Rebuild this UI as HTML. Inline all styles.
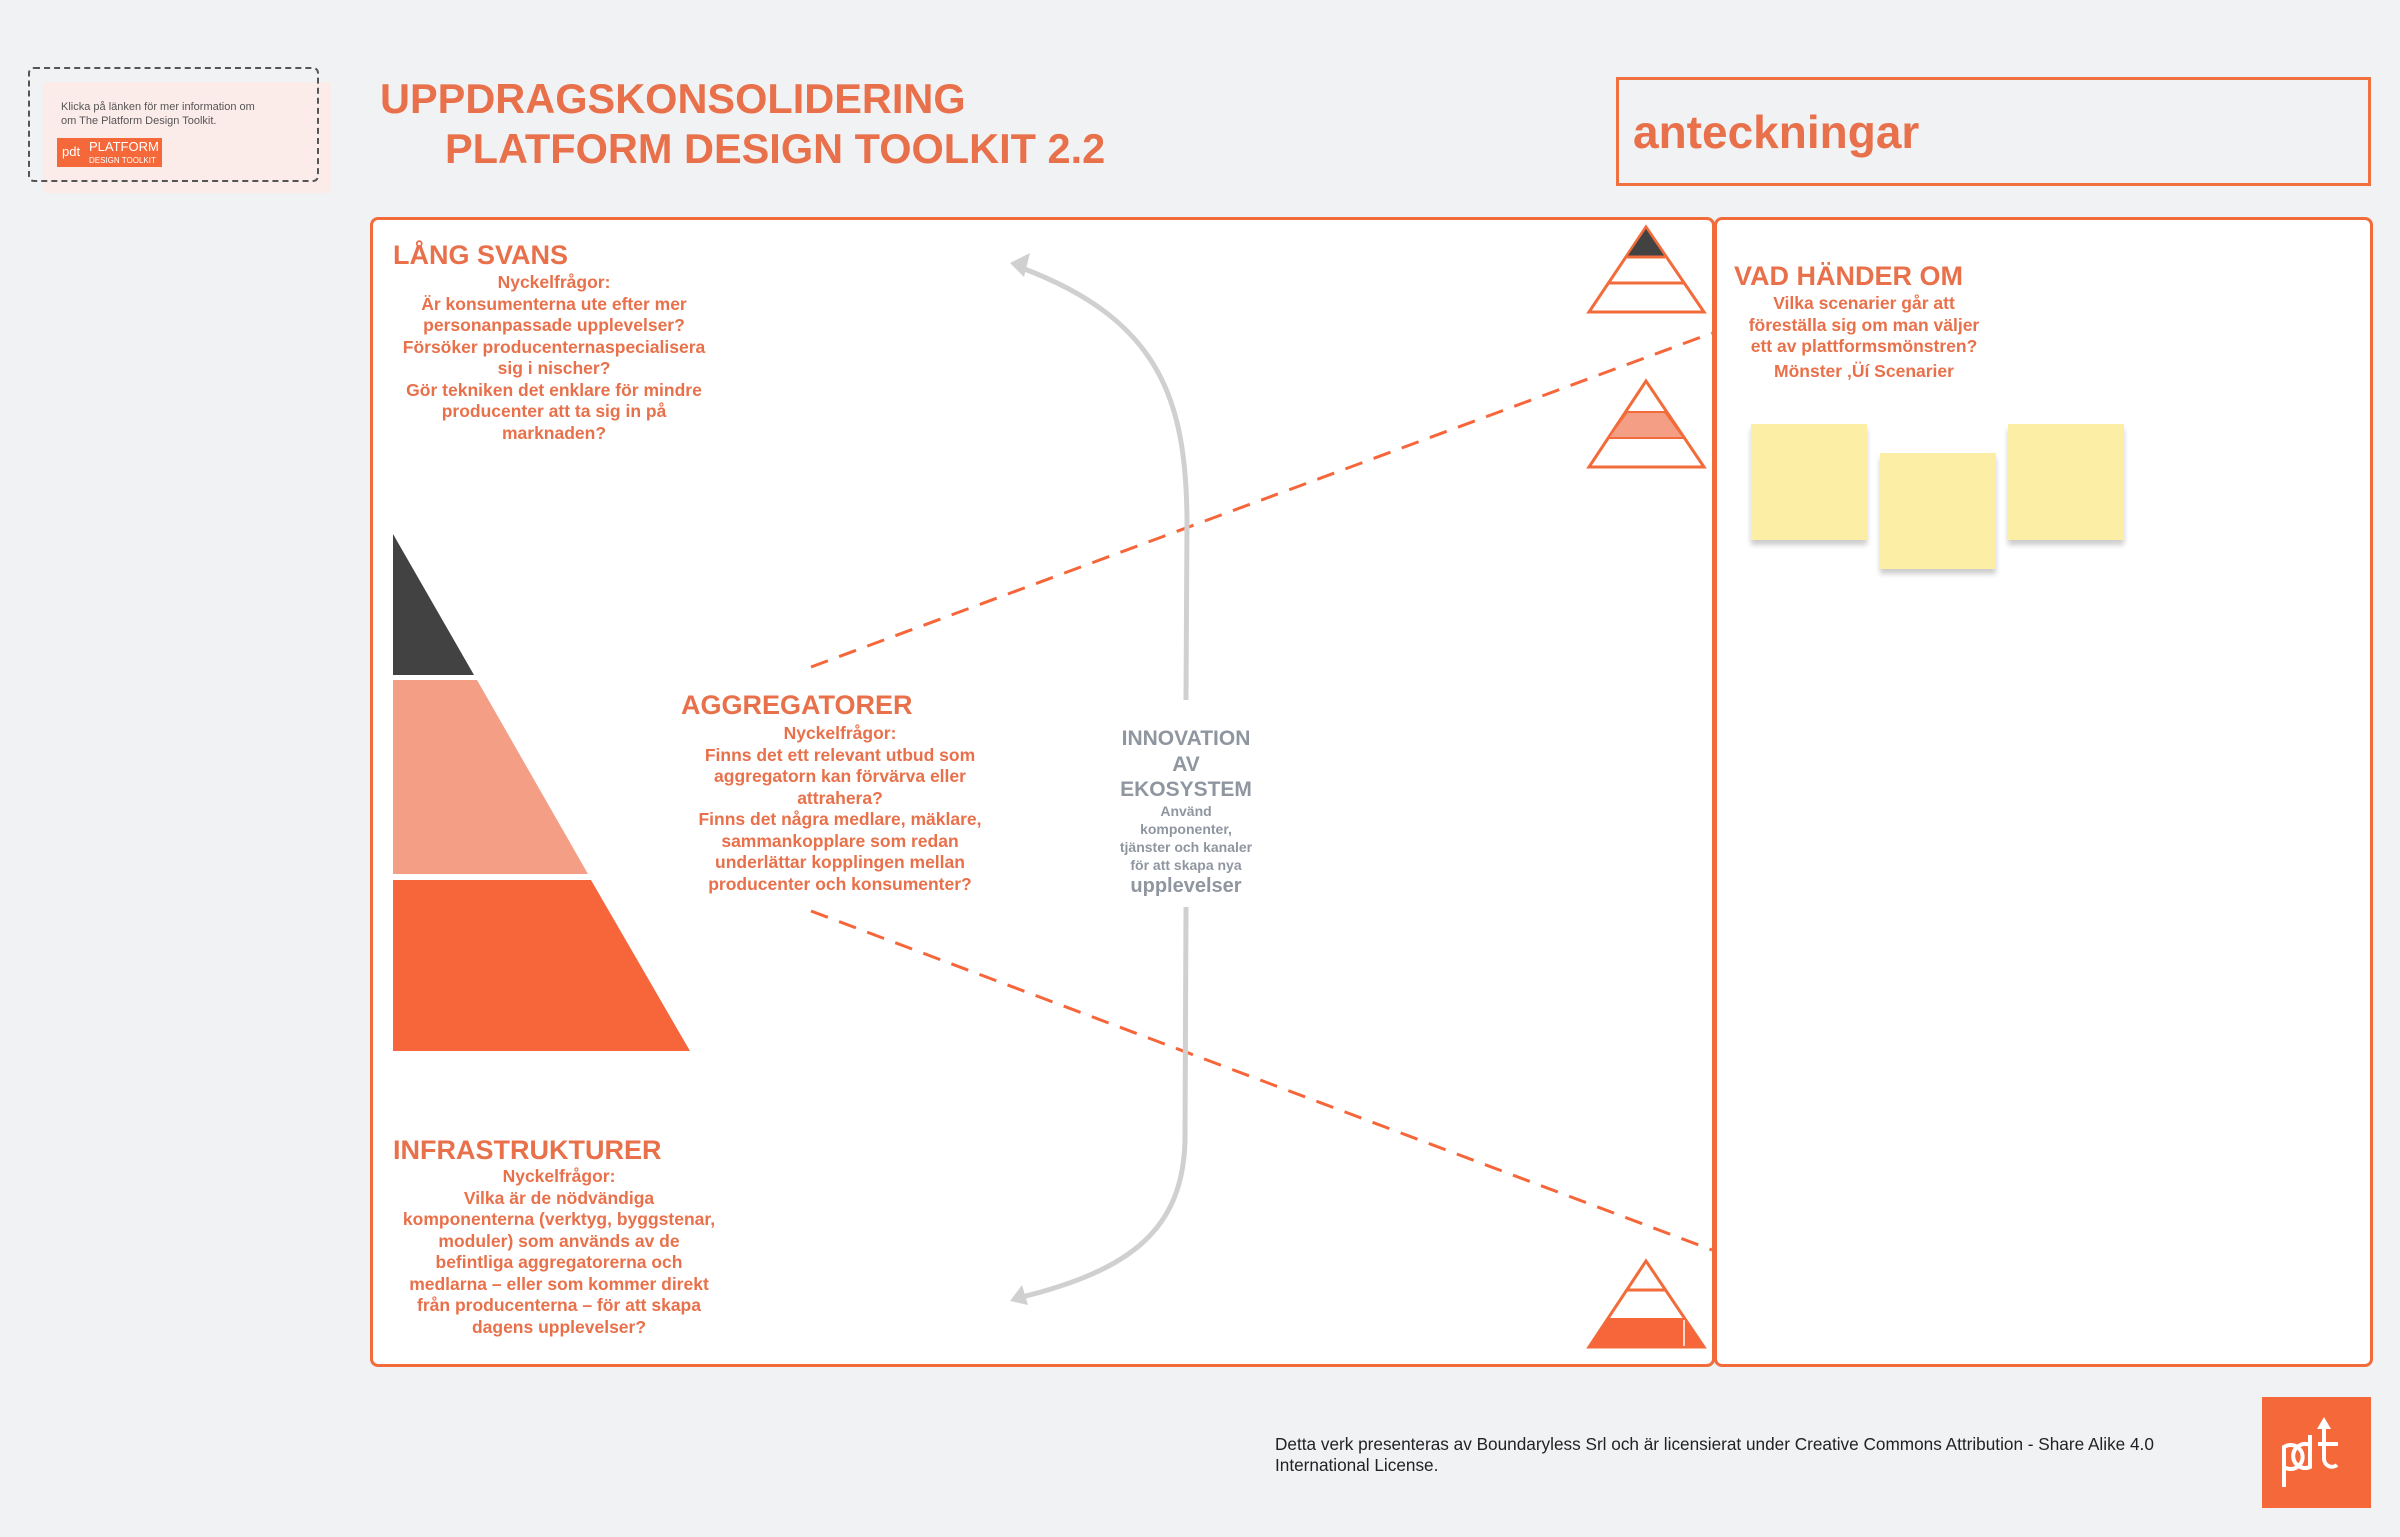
<!DOCTYPE html>
<html><head><meta charset="utf-8"><style>
body{margin:0;width:2400px;height:1537px;background:#f1f2f4;position:relative;overflow:hidden;font-family:"Liberation Sans",sans-serif}
.a{position:absolute}
.o{color:#e8704a;font-weight:bold}
.h{font-size:27px}
.b{font-size:17.5px;line-height:21.5px;text-align:center}
</style></head><body>
<div class="a" style="left:43px;top:82px;width:288px;height:111px;background:#fcece9;border-radius:4px"></div>
<div class="a" style="left:28px;top:67px;width:287px;height:111px;border:2px dashed #555;border-radius:6px"></div>
<div class="a" style="left:61px;top:100px;font-size:11px;line-height:14px;color:#555">Klicka på länken för mer information om<br>om The Platform Design Toolkit.</div>
<div class="a" style="left:57px;top:138px;width:105px;height:29px;background:#f4683a;color:#fff">
<span class="a" style="left:5px;top:6px;font-size:13px">pdt</span>
<span class="a" style="left:32px;top:3px;font-size:13px;line-height:12px">PLATFORM<br><span style="font-size:8px">DESIGN TOOLKIT</span></span></div>

<div class="a o" style="left:380px;top:74px;font-size:41.5px;line-height:50px">UPPDRAGSKONSOLIDERING</div>
<div class="a o" style="left:445px;top:124px;font-size:41.5px;line-height:50px">PLATFORM DESIGN TOOLKIT 2.2</div>

<div class="a" style="left:1616px;top:77px;width:749px;height:103px;border:3px solid #f0703f;background:#f1f2f4"></div>
<div class="a o" style="left:1633px;top:105px;font-size:46px">anteckningar</div>

<div class="a" style="left:370px;top:217px;width:1339px;height:1144px;border:3px solid #f26b3a;border-radius:8px;background:#fff"></div>
<div class="a" style="left:1714px;top:217px;width:653px;height:1144px;border:3px solid #f26b3a;border-radius:8px;background:#fff"></div>

<svg class="a" style="left:0;top:0" width="2400" height="1537">
<polygon points="393,534 393,675 474,675" fill="#424242"/>
<polygon points="393,680 477,680 588,874 393,874" fill="#f49e86"/>
<polygon points="393,880 591,880 690,1051 393,1051" fill="#f6663a"/>
<g stroke="#f26b3a" stroke-width="3" fill="#fff">
<polygon points="1646,227 1589,312 1704,312"/>
<polygon points="1646,381 1589,467 1704,467"/>
<polygon points="1646,1261 1589,1347 1704,1347"/>
</g>
<polygon points="1646,229 1665,257 1627,257" fill="#424242"/>
<polygon points="1627,412 1665,412 1684,438 1608,438" fill="#f49e86" stroke="#f26b3a" stroke-width="2"/>
<line x1="1608" y1="283" x2="1684" y2="283" stroke="#f26b3a" stroke-width="3"/>
<line x1="1627" y1="257" x2="1665" y2="257" stroke="#f26b3a" stroke-width="3"/>
<line x1="1627" y1="1290" x2="1665" y2="1290" stroke="#f26b3a" stroke-width="3"/>
<polygon points="1608,1318 1684,1318 1704,1347 1589,1347" fill="#f6663a"/>
<line x1="1684" y1="1320" x2="1684" y2="1346" stroke="#fff" stroke-width="1.5"/>
<g stroke="#f6663a" stroke-width="3" stroke-dasharray="18,12" fill="none">
<line x1="811" y1="667" x2="1712" y2="333"/>
<line x1="811" y1="911" x2="1712" y2="1250"/>
</g>
<g stroke="#d0d0d0" stroke-width="5" fill="none">
<path d="M1186,700 L1187,520 C1186,400 1160,320 1022,268"/>
<path d="M1186,907 L1185,1140 C1183,1230 1130,1270 1022,1297"/>
</g>
<polygon points="1010,263 1030,253 1024,277" fill="#d0d0d0"/>
<polygon points="1010,1301 1022,1285 1028,1305" fill="#d0d0d0"/>
</svg>

<div class="a o h" style="left:393px;top:240px">LÅNG SVANS</div>
<div class="a o b" style="left:384px;top:272px;width:340px">Nyckelfrågor:<br>Är konsumenterna ute efter mer<br>personanpassade upplevelser?<br>Försöker producenternaspecialisera<br>sig i nischer?<br>Gör tekniken det enklare för mindre<br>producenter att ta sig in på<br>marknaden?</div>

<div class="a o h" style="left:681px;top:690px">AGGREGATORER</div>
<div class="a o b" style="left:660px;top:723px;width:360px">Nyckelfrågor:<br>Finns det ett relevant utbud som<br>aggregatorn kan förvärva eller<br>attrahera?<br>Finns det några medlare, mäklare,<br>sammankopplare som redan<br>underlättar kopplingen mellan<br>producenter och konsumenter?</div>

<div class="a o h" style="left:393px;top:1135px">INFRASTRUKTURER</div>
<div class="a o b" style="left:379px;top:1166px;width:360px">Nyckelfrågor:<br>Vilka är de nödvändiga<br>komponenterna (verktyg, byggstenar,<br>moduler) som används av de<br>befintliga aggregatorerna och<br>medlarna – eller som kommer direkt<br>från producenterna – för att skapa<br>dagens upplevelser?</div>

<div class="a" style="left:1086px;top:726px;width:200px;text-align:center;color:#8f96a0;font-weight:bold;font-size:21px;line-height:25.5px">INNOVATION<br>AV<br>EKOSYSTEM</div>
<div class="a" style="left:1086px;top:802px;width:200px;text-align:center;color:#8f96a0;font-weight:bold;font-size:14px;line-height:18px">Använd<br>komponenter,<br>tjänster och kanaler<br>för att skapa nya<br><span style="font-size:20px;line-height:24px">upplevelser</span></div>

<div class="a o h" style="left:1734px;top:261px">VAD HÄNDER OM</div>
<div class="a o b" style="left:1704px;top:293px;width:320px;line-height:21.5px">Vilka scenarier går att<br>föreställa sig om man väljer<br>ett av plattformsmönstren?<br><span style="line-height:27px">Mönster ‚Üí Scenarier</span></div>

<div class="a" style="left:1751px;top:424px;width:116px;height:116px;background:#fdeea6;box-shadow:0 5px 5px rgba(0,0,0,.2)"></div>
<div class="a" style="left:1880px;top:453px;width:116px;height:116px;background:#fdeea6;box-shadow:0 5px 5px rgba(0,0,0,.2)"></div>
<div class="a" style="left:2008px;top:424px;width:116px;height:116px;background:#fdeea6;box-shadow:0 5px 5px rgba(0,0,0,.2)"></div>

<div class="a" style="left:1275px;top:1434px;font-size:17.2px;line-height:21px;color:#222;width:980px">Detta verk presenteras av Boundaryless Srl och är licensierat under Creative Commons Attribution - Share Alike 4.0<br>International License.</div>
<div class="a" style="left:2262px;top:1397px;width:109px;height:111px;background:#f4683a">
<svg width="109" height="111"><g stroke="#fff" stroke-width="4" fill="none"><path d="M22,90 V50 A12,12 0 1 1 22,70"/><path d="M48,48 A12,12 0 1 0 48,70 V38"/><path d="M62,30 V62 A8,8 0 0 0 75,68"/><path d="M56,47 H76"/></g><polygon points="62,20 55,32 69,32" fill="#fff"/></svg></div>
</body></html>
